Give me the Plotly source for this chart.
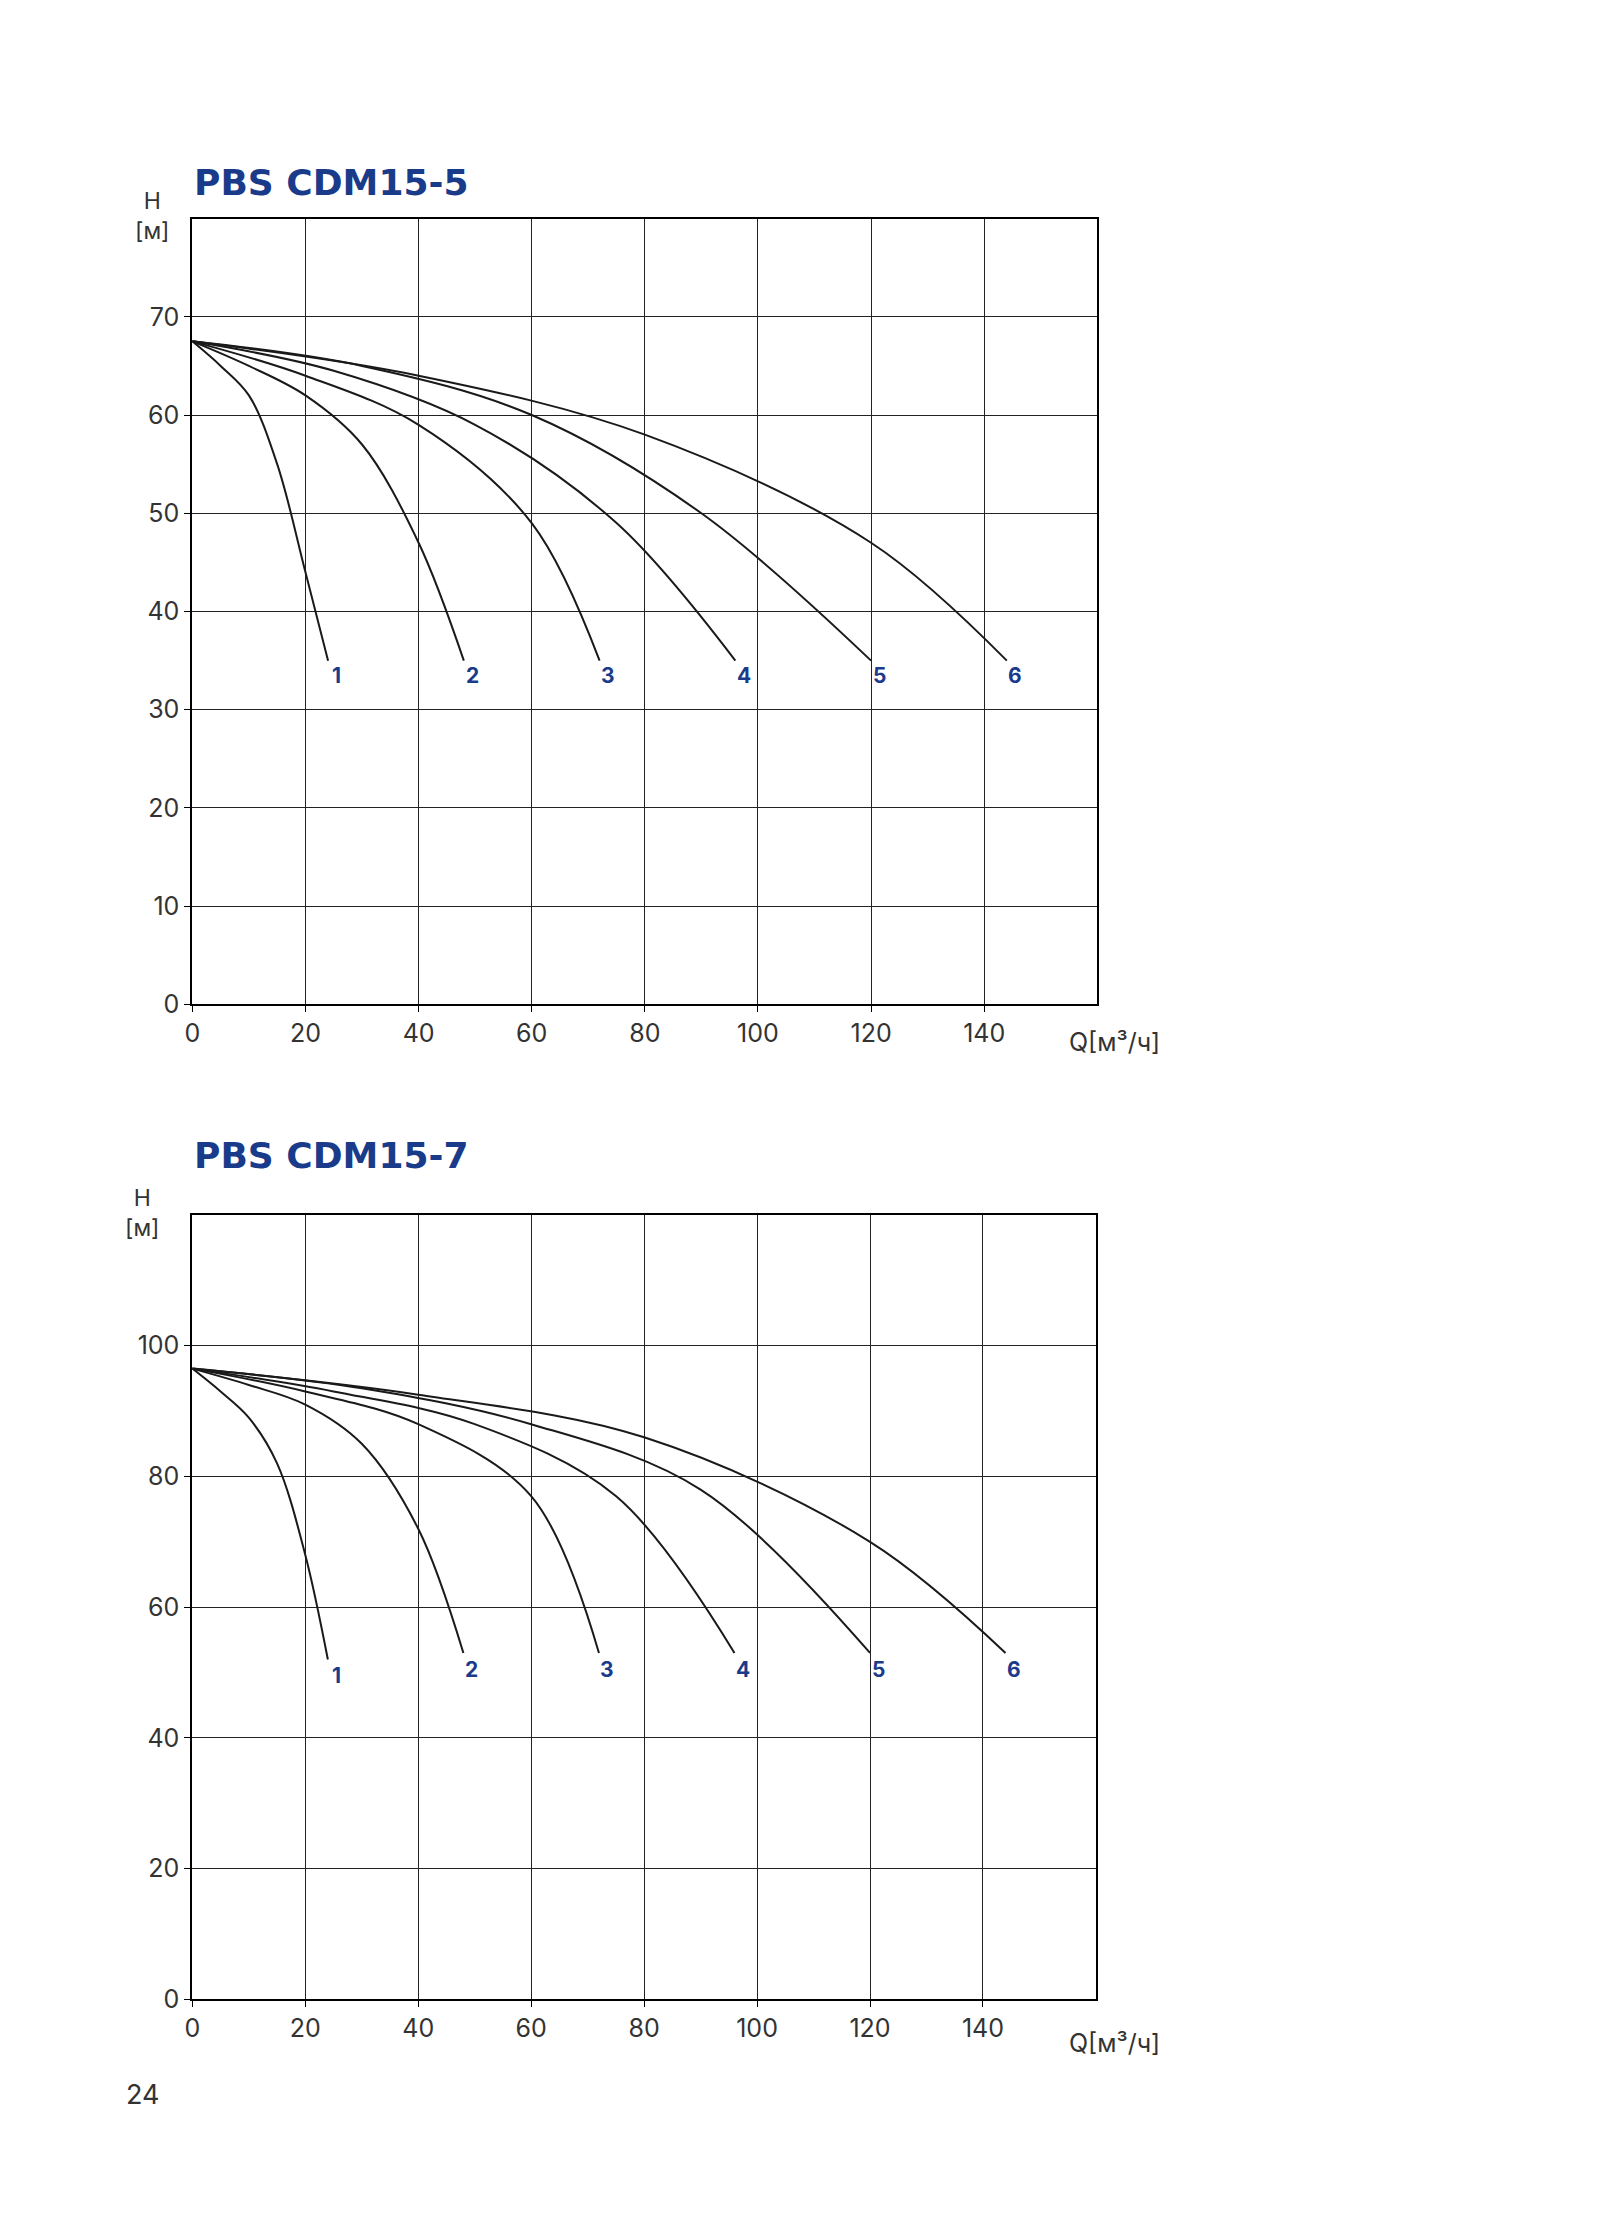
import plotly.graph_objects as go

labels = ["1", "2", "3", "4", "5", "6"]
# Chart 1: PBS CDM15-5
q1 = [[0, 5, 10, 15, 20, 24], [0, 10, 20, 30, 40, 48], [0, 20, 40, 60, 72],
      [0, 25, 50, 75, 96], [0, 30, 60, 90, 120], [0, 40, 80, 120, 144]]
h1 = [[67.5, 65, 62, 55, 44, 35], [67.5, 65, 62, 57, 47, 35], [67.5, 64, 59, 49, 35],
      [67.5, 64.5, 59, 49, 35], [67.5, 65, 60, 50, 35], [67.5, 64, 58, 47, 35]]
# Chart 2: PBS CDM15-7
q2 = q1
h2 = [[96.5, 93, 89, 82, 68, 52], [96.5, 94, 91, 85, 72, 53], [96.5, 93, 88, 77, 53],
      [96.5, 93, 88, 77, 53], [96.5, 93.5, 88, 78, 53], [96.5, 92.5, 86, 70, 53]]
x_ticks = [0, 20, 40, 60, 80, 100, 120, 140]
y1_ticks = [0, 10, 20, 30, 40, 50, 60, 70]
y2_ticks = [0, 20, 40, 60, 80, 100]

NAVY = "#1a3a8a"
FONT = "Inter"
TXT = "#333"
fig = go.Figure()
for qs, hs, xa, ya, off in [(q1, h1, "x", "y", 1.5), (q2, h2, "x2", "y2", 2.5)]:
    for lab, q, h in zip(labels, qs, hs):
        fig.add_trace(go.Scatter(x=q, y=h, mode="lines", xaxis=xa, yaxis=ya,
                                 line=dict(color="#1a1a1a", width=2, shape="spline"),
                                 showlegend=False, hoverinfo="skip"))
        fig.add_annotation(x=q[-1] + 1.5, y=h[-1] - off, text="<b>%s</b>" % lab,
                           xref=xa, yref=ya, showarrow=False,
                           font=dict(color=NAVY, size=21, family=FONT))

ax = dict(range=[0, 160], tickvals=x_ticks, showgrid=True, gridcolor="#222", gridwidth=1,
          showline=True, linecolor="#000", linewidth=2, mirror=True, zeroline=False,
          ticks="outside", ticklen=6, tickcolor="#000",
          tickfont=dict(size=25, family=FONT, color=TXT))
fig.update_layout(
    width=1601, height=2222, margin=dict(l=0, r=0, t=0, b=0),
    paper_bgcolor="white", plot_bgcolor="white",
    xaxis=dict(ax, domain=[0.1107, 0.6788], anchor="y"),
    yaxis=dict(ax, range=[0, 80], tickvals=y1_ticks, domain=[0.5485, 0.9046], anchor="x"),
    xaxis2=dict(ax, domain=[0.1107, 0.6779], anchor="y2"),
    yaxis2=dict(ax, range=[0, 120], tickvals=y2_ticks, domain=[0.0977, 0.4531], anchor="x2"),
)
for y_t, x_h, y_h, y_q, title in [(0.931, 0.0735, 0.92, 0.539, "PBS CDM15-5"),
                                  (0.480, 0.067, 0.454, 0.0858, "PBS CDM15-7")]:
    fig.add_annotation(x=0.1107, y=y_t, xref="paper", yref="paper", xanchor="left", showarrow=False,
                       text="<b>%s</b>" % title, font=dict(size=36, color=NAVY, family="DejaVu Sans"))
    fig.add_annotation(x=x_h, y=y_h, xref="paper", yref="paper",
                       showarrow=False, text="H<br>[м]", align="center",
                       font=dict(size=23, family=FONT, color=TXT))
    fig.add_annotation(x=0.6595, y=y_q, xref="paper", yref="paper", xanchor="left", yanchor="top",
                       showarrow=False, text="Q[м³/ч]", font=dict(size=25, family=FONT, color=TXT))
fig.add_annotation(x=0.068, y=0.046, xref="paper", yref="paper", xanchor="left", showarrow=False,
                   text="24", font=dict(size=27, family=FONT, color=TXT))
fig.write_html("out.html")
